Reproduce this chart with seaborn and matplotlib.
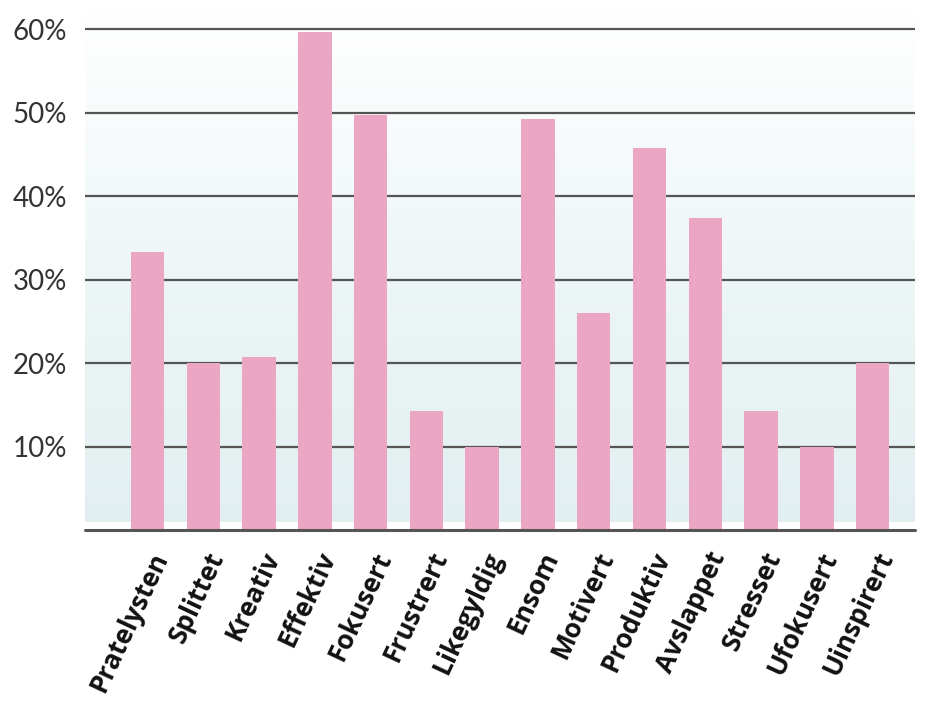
import numpy as np
import pandas as pd
import matplotlib
matplotlib.use("Agg")
import matplotlib.pyplot as plt
from matplotlib.colors import LinearSegmentedColormap
from matplotlib.transforms import ScaledTranslation
import seaborn as sns

categories = ["Pratelysten", "Splittet", "Kreativ", "Effektiv", "Fokusert", "Frustrert",
              "Likegyldig", "Ensom", "Motivert", "Produktiv", "Avslappet", "Stresset",
              "Ufokusert", "Uinspirert"]
values = [33.3, 20.0, 20.7, 59.6, 49.7, 14.3, 10.0, 49.2, 26.0, 45.8, 37.4, 14.3, 10.0, 20.0]
ytick_values = [10, 20, 30, 40, 50, 60]
ytick_labels = ["10%", "20%", "30%", "40%", "50%", "60%"]

df = pd.DataFrame({"kategori": categories, "andel": values})

sns.set_theme(style="white")
plt.rcParams['font.family'] = ['Open Sans', 'DejaVu Sans']

fig = plt.figure(figsize=(9.45, 7.21), dpi=100)
ax = fig.add_axes([85/945, 188/721, 830/945, (533-12.3)/721])

xlim = (-1.12, 13.76)
ylim = (-0.3, 62)

# background gradient
grad = np.linspace(0, 1, 256).reshape(-1, 1)
cmap = LinearSegmentedColormap.from_list("bg", ["#e2eff0", "#eef6f7", "#ffffff"])
ax.imshow(grad, extent=(xlim[0], xlim[1], 1.0, 62), origin="lower", aspect="auto",
          cmap=cmap, zorder=0, interpolation="bilinear")

for v in ytick_values:
    ax.axhline(v, color="#555555", lw=1.6, zorder=1)

sns.barplot(data=df, x="kategori", y="andel", color="#eaa6c3", saturation=1,
            width=0.6, ax=ax, zorder=2, edgecolor="none", linewidth=0)

ax.axhline(0, color="#555555", lw=2.2, zorder=3, clip_on=False)

ax.set_xlim(*xlim)
ax.set_ylim(*ylim)
for s in ax.spines.values():
    s.set_visible(False)
ax.set_xlabel("")
ax.set_ylabel("")
ax.set_yticks(ytick_values)
ax.set_yticklabels(ytick_labels, fontsize=20, color="#333333",
                   family=["Lato", "DejaVu Sans"], fontweight="normal")
ax.tick_params(axis="y", length=0, pad=13)
ax.tick_params(axis="x", length=0, pad=0)
ax.set_xticks(range(len(categories)))
ax.set_xticklabels(categories, rotation=65, ha="right", va="center",
                   rotation_mode="anchor", fontsize=19, fontweight="bold", color="#111111")
off = ScaledTranslation(14/100, -20/100, fig.dpi_scale_trans)
for lbl in ax.get_xticklabels():
    lbl.set_transform(lbl.get_transform() + off)

fig.savefig("out.png", dpi=100, facecolor="white")
